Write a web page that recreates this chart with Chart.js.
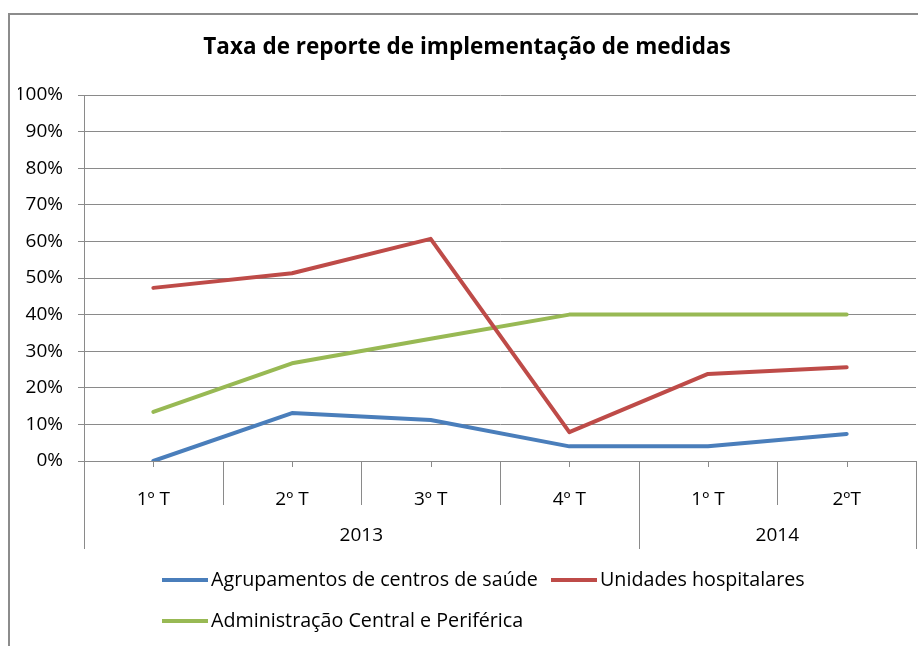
<!DOCTYPE html>
<html>
<head>
<meta charset="utf-8">
<script src="https://cdn.jsdelivr.net/npm/chart.js@4"></script>
<style>
html,body{margin:0;padding:0;background:#fff;}
#wrap{width:918px;height:646px;position:relative;}
</style>
</head>
<body>
<div id="wrap"><canvas id="c" width="918" height="646"></canvas></div>
<script>
const titleText = 'Taxa de reporte de implementação de medidas';
const categories = ['1º T', '2º T', '3º T', '4º T', '1º T', '2ºT'];
const yearLabels = ['2013', '2014'];
const yearSpan = [4, 2];
const seriesNames = ['Agrupamentos de centros de saúde', 'Unidades hospitalares', 'Administração Central e Periférica'];
const agrupamentos = [0, 13.1, 11.2, 4.0, 4.0, 7.4];
const unidades = [47.3, 51.3, 60.7, 7.9, 23.8, 25.6];
const administracao = [13.4, 26.7, 33.4, 40.0, 40.0, 40.0];
const yTicks = [0, 10, 20, 30, 40, 50, 60, 70, 80, 90, 100];

const FONT = '"Open Sans", "Noto Sans", sans-serif';
const GRID = '#8a8a8a';

const decor = {
  id: 'decor',
  beforeDraw(chart) {
    const ctx = chart.ctx;
    ctx.save();
    ctx.fillStyle = '#fff';
    ctx.fillRect(0, 0, chart.width, chart.height);
    ctx.strokeStyle = '#8c8c8c';
    ctx.lineWidth = 2;
    ctx.beginPath();
    ctx.moveTo(9, 660);
    ctx.lineTo(9, 14);
    ctx.lineTo(930, 14);
    ctx.stroke();
    ctx.restore();
  },
  afterDraw(chart) {
    const ctx = chart.ctx;
    const x = chart.scales.x;
    const area = chart.chartArea;
    const base = area.bottom;
    ctx.save();
    ctx.strokeStyle = GRID;
    ctx.lineWidth = 1;
    const half = (x.getPixelForValue(1) - x.getPixelForValue(0)) / 2;
    categories.forEach((c, i) => {
      const px = Math.round(x.getPixelForValue(i)) + 0.5;
      ctx.beginPath(); ctx.moveTo(px, base); ctx.lineTo(px, base + 6); ctx.stroke();
    });
    const groupEnds = new Set([0]);
    let acc = 0;
    yearSpan.forEach(s => { acc += s; groupEnds.add(acc); });
    for (let i = 0; i <= categories.length; i++) {
      const px = Math.round(x.getPixelForValue(i) - half) + 0.5;
      const len = groupEnds.has(i) ? 88 : 44;
      ctx.beginPath(); ctx.moveTo(px, base); ctx.lineTo(px, base + len); ctx.stroke();
    }
    ctx.fillStyle = '#000';
    ctx.font = '19px ' + FONT;
    ctx.textAlign = 'center';
    ctx.textBaseline = 'middle';
    let start = 0;
    yearLabels.forEach((lab, k) => {
      const l = x.getPixelForValue(start) - half;
      const r = x.getPixelForValue(start + yearSpan[k] - 1) + half;
      ctx.fillText(lab, (l + r) / 2, base + 75);
      start += yearSpan[k];
    });
    const ds = chart.data.datasets;
    const items = [
      {i: 0, x: 162, y: 580},
      {i: 1, x: 551, y: 580},
      {i: 2, x: 162, y: 621}
    ];
    ctx.textAlign = 'left';
    ctx.font = '19.7px ' + FONT;
    items.forEach(it => {
      const d = ds[it.i];
      ctx.strokeStyle = d.borderColor;
      ctx.lineWidth = 4;
      ctx.lineCap = 'butt';
      ctx.beginPath(); ctx.moveTo(it.x, it.y); ctx.lineTo(it.x + 46, it.y); ctx.stroke();
      ctx.fillStyle = '#000';
      ctx.fillText(d.label, it.x + 49, it.y);
    });
    ctx.restore();
  }
};

new Chart(document.getElementById('c'), {
  type: 'line',
  data: {
    labels: categories,
    datasets: [
      {label: seriesNames[0], data: agrupamentos, borderColor: '#4a7ebb', backgroundColor: '#4a7ebb'},
      {label: seriesNames[1], data: unidades, borderColor: '#be4b48', backgroundColor: '#be4b48'},
      {label: seriesNames[2], data: administracao, borderColor: '#98b954', backgroundColor: '#98b954'}
    ]
  },
  options: {
    responsive: false,
    animation: false,
    devicePixelRatio: 1,
    layout: {padding: {left: 18, right: 2, top: 0, bottom: 0}},
    elements: {
      line: {borderWidth: 4, tension: 0, borderCapStyle: 'round', borderJoinStyle: 'round'},
      point: {radius: 0, hoverRadius: 0}
    },
    plugins: {
      legend: {display: false},
      tooltip: {enabled: false},
      title: {
        display: true,
        text: titleText,
        color: '#000',
        font: {family: FONT, size: 22.5, weight: 'bold'},
        padding: {top: 34, bottom: 34}
      }
    },
    scales: {
      x: {
        offset: true,
        grid: {display: false},
        border: {display: true, color: GRID, width: 1},
        ticks: {color: '#000', font: {family: FONT, size: 19}, padding: 19, maxRotation: 0, autoSkip: false},
        afterFit(s) { s.height = 185; }
      },
      y: {
        min: 0, max: 100,
        afterBuildTicks(s) { s.ticks = yTicks.map(v => ({value: v})); },
        grid: {color: GRID, lineWidth: 1, tickLength: 6, drawTicks: true},
        border: {display: true, color: GRID, width: 1},
        ticks: {color: '#000', font: {family: FONT, size: 19}, padding: 15, callback: v => v + '%'},
        afterFit(s) { s.width = 66; }
      }
    }
  },
  plugins: [decor]
});
</script>
</body>
</html>
